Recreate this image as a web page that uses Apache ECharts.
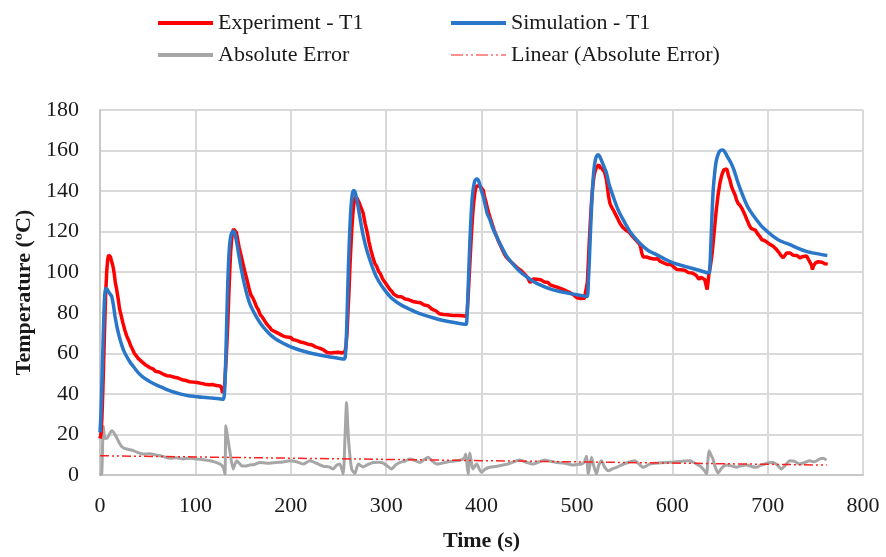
<!DOCTYPE html>
<html>
<head>
<meta charset="utf-8">
<script src="https://cdn.jsdelivr.net/npm/echarts@6/dist/echarts.min.js"></script>
<style>
html,body{margin:0;padding:0;background:#fff;}
#chart{width:886px;height:557px;}
</style>
</head>
<body>
<div id="chart"></div>
<script>
// ---- Data ----
const seriesNames = ['Experiment - T1', 'Simulation - T1', 'Absolute Error', 'Linear (Absolute Error)'];
const xTicks = [0, 100, 200, 300, 400, 500, 600, 700, 800];
const yTicks = [0, 20, 40, 60, 80, 100, 120, 140, 160, 180];

// Experiment - T1: time (s) / temperature (°C)
const expTime = [0,1,2,3,4,5,6,7,8,9,10,11,12,13,14,15,16,17.5,19,20.5,22.5,24,26,28,30,32,34,36,38,40,42,44,46,48,50,52,54,56,58,60,62,64,66,68,70,72,74,76,78,80,82,84,86,88,90,92,94,96,98,100,102,104,106,108,110,112,114,116,118,120,122,124,126,127.5,128.5,129.5,130.5,
131,132,133,134,135,136,137,138,139,140,141,142,143,144,145,146,148,150,152,154,156,158,160,162,164,166,168,170,172,174,176,178,180,182,184,186,188,190,192,194,196,198,200,202,204,206,208,210,212,214,216,218,220,222,224,226,228,230,232,234,236,238,240,242,244,246,248,250,252,254,256,257,
258,259,260,261,262,263,264,265,266,267,268,269,270,271,272,273,274,276,278,280,282,284,286,288,290,292,294,296,298,300,302,304,306,308,310,312,314,316,318,320,322,324,326,328,330,332,334,336,338,340,342,344,346,348,350,352,354,356,358,360,362,364,366,368,370,372,374,376,378,380,382,384,385,
386,387,388,389,390,391,392,393,394,395,396,397,398,399,400,401.8,403,405,407,409,411,413,415.8,418,420,422,424,426,428,430,432,434,436,438,440,442,444,446,448,450,451,452,454,456,458,460,462,464,466,468,470,472,474,476,478,480,482,484,486,488,490,492,494,496,498,500,502,504,506,508,510,
511,512,513,514,515,516,517,518,519,520,521,522,523,524,525,526,527,528,529,530,531,532,533,534.6,536,538,540,542,545,548,550,552,555.6,558,560,562,564,566,567,568,569.5,571,573,575,577,579,581,583,585,587,589,591,593,595,597,599,601,603,605,607,609,611,613,615,617,619,621,623,625,627,628,629,630,632,634,635,636.6,637.5,638.5,
640,642,644,646,648,650,652,654,656,657,658,659,660.4,662,664,666,667.3,669,671,673,674.3,676,678,680,681.3,683,685,687,688.3,690,692,694,695.3,697,699,701,703,705.8,708,710,712,714,716.3,718,720,722,723.3,725,727,729,731,733.8,736,738,740.7,742,744,746,747,748,750,752,753,755,757,758,760,762,763];
const expTemp = [18,20,28,42,58,75,90,100,106,108.5,108.7,107.5,105.5,104,102,99,95,91.5,87,82,78,75,71.5,68.5,66.5,64,62,60,58.8,57.5,57,55.8,55,54.2,53.8,53,52.6,52.2,51.2,51,50.8,50.2,49.8,49.6,49,48.5,48.8,48,48.2,47.5,47.8,47.2,47,47.4,46.6,46.8,46,46.5,45.8,46.4,45.6,45.9,45.2,45.5,44.8,45.1,44.5,44.2,44.6,43.8,44.1,43.5,43.9,42.8,40.5,42,44,
47,55,64,75,88,100,110,116,119.5,121.3,121.8,121,119.5,117,114.5,112,108,104,100,96.5,92.5,89,87.5,85.5,83,81.5,79,78,76.5,75,73.8,72.8,71.5,71.8,70.6,70.2,69.6,69.9,68.5,68.8,68,67.4,67.8,66.8,67.2,66.4,66,65.6,66,65.2,65.4,64.5,64,64.2,63.5,63.2,63.6,62.6,62.2,61.8,61,60.4,60.8,60.2,59.8,60.4,60.9,60.5,60.8,60.2,59.8,61,
64,70,80,90,102,112,121,128,133,136,137.4,137,136,135,134,132.5,131.5,129,124,120,115,111,107.5,104.5,103,100.5,99.2,97,95.5,94.8,92.8,91.5,90.5,89.2,88.8,88,87.5,87.9,87,86.8,87.2,86.4,86.6,85.6,85.8,85.2,84.6,84.9,84.2,83.8,83.2,83.5,82.6,81.8,81.5,81,80.3,79.5,79.8,79.2,79.6,79,79.4,78.8,79.2,78.6,78.2,78.7,78.1,78.5,77.9,78.3,80,
88,97,106,115,123,130,135,139,141.5,142.5,143,143.2,142.5,142,141.5,140.5,137.5,134,130,127,124,121,117.7,115,113,111,109,107.5,106.5,105.5,104.6,103.8,103.2,102,101.2,100.6,99.8,98.7,97.6,95.8,94.8,95.6,96.6,96.2,96.5,96,96.3,95.4,95.2,94.6,94.9,93.8,93.6,93.1,93.4,92.5,92.6,91.8,91.6,91,90.6,90.1,89.5,89,88.1,87.4,87.8,87,86.9,87.2,88,
95,105,115,124,132,139,144,147.5,149.5,151,152,152.5,153,152.2,151,152,150.5,150.8,149.5,147.5,145.6,142,138,134.1,132.5,130.8,129,127.2,124.3,122.2,121.5,120.5,119.4,117.8,117.2,115.8,115,113.6,112,109.5,107.5,106.6,107.5,107.2,106.9,107.3,106.5,106.2,106.6,105.5,105.3,104.6,104.8,103.8,103.5,103.8,102.8,102.4,101.3,101.7,101.2,100.8,101,100.2,99.8,100,99.6,99,98.5,98.2,96.5,95.6,97.5,97.8,96.4,94.5,91.5,95,99.5,
103,110,120,130,138,144,148,150.5,151.3,151,149.5,147.5,145.6,142.5,140,138,135.8,134,133,131.5,130.8,128.5,126.2,124,122.6,121.5,121.8,120.8,120.2,118.6,117.5,116,115.3,115.6,114.8,114.2,113.5,112.8,111.8,110.8,109.6,108.2,107.1,108.2,109.5,109.8,109.5,108.6,108.4,107.8,108.2,107.1,107.6,108.2,108,107,106.2,103.5,101.3,103,104.5,105.4,105.2,104.3,104.9,104.6,104.2,103.8,104];

// Simulation - T1
const simTime = [0,1,2,3,4,5,6,7,8,9,10,11,12.2,13,14,15.7,17,18.5,21,23,25,27,29.7,32,35,40,45,50,54,60,65,71.6,78,85,92.6,100,107,113.5,120,125,129.5,
131,132,133,134,135,136,137,138,139,140,141,142,143,144,145,147,149,151,153,155,157,160,164,168,172,176,180,185,190,195,200,210,220,230,240,250,256,
257,258,259,260,261,262,263,264,265,266,267,268,269,270,272,274,276,278,280,283,286,290,295,300,305,310,315,320,325,330,340,350,360,370,380,384,
385,386,387,388,389,390,391,392,393,394,395,396,397,398,400,401.8,404,406,408.8,412,415.8,420,426,432,440,447,454,462,471.7,482,492.7,500,508.4,511,
512,513,514,515,516,517,518,519,520,521,522,523,524,525,528,531,534,538,543,548.5,555,562.5,570,576,583.5,592,601,610,618.5,628,637.6,639,
640,641,642,643,644.5,646,648,650,652,654,656,659,662,665,668,671,674.3,678,682,688.3,695,705.8,714,723.3,732,740.7,750,762.6];
const simTemp = [21,30,45,62,78,89,91.8,91.8,91.2,90.3,89.6,89,88.2,86.5,84,78.4,75,71.5,66.9,63.8,61.2,59.3,57,55.3,53.5,50.5,48.3,46.7,45.6,44.2,43.2,41.8,40.8,39.9,39.1,38.7,38.3,38.1,37.8,37.6,37.4,
45,60,78,95,107,114,117.5,119.3,120,120.2,119.5,118,115.5,113,110,104.5,99.5,95,91,87.5,84.5,81.5,78,75,72.5,70.4,68.6,66.8,65.5,64.3,63.2,61.5,60.2,59.2,58.3,57.6,57.2,
58,64,78,95,110,122,131,136.5,139.5,140.3,140,138.5,136.5,134,128.5,123,118,114,110.5,106,102,97.5,93.5,90.3,87.5,85.6,84.1,82.8,81.7,80.6,78.8,77.4,76.2,75.3,74.5,74.3,
80,92,105,117,127,135,140,143,145,145.8,146,145.9,145,143.5,140,137.4,133,129,125.9,121.5,117.7,113.5,108.2,104.5,100.5,97.8,95.6,93.6,91.8,90.5,89.5,88.9,88.2,88,
95,105,117,128,138,145.5,151,154.5,156.5,157.5,157.9,157.7,157,156,152.5,148.9,143,137.4,131,125.9,120.5,116.1,112.5,110.4,108.7,106.5,104.6,103.3,102.2,101,99.7,99.8,
108,120,132,141,149,154.5,158,159.8,160.3,160,158.6,156,153.5,150,145.5,141.5,137.4,133.3,130,125.9,122,117.7,115.3,113.6,111.8,110.3,109.3,108.2];

// Absolute Error
const errTime = [0,1.8,3.5,5.2,8,12.2,15.7,21,24,28,35,40,45.4,52,59.4,66,73.4,80,87.3,94,101.3,108,115.3,120,125.8,129.2,131,132,134,136.3,139.6,143.3,148.4,152,157,162,167.7,175,185,192,199,206,213,220,227,234,240,244.5,248,251.5,255,257,258.5,260.5,263.8,267.3,270.8,276,281,286.5,292,297,301,305.7,310,314.5,320,325,330,335.3,340,344,348,353,360,367,373,379,382,383.6,385,386,387.8,389.5,391,395,398,400,404,408.8,415,422.6,430,440,447,454,460,466,472,478.6,486,496,500,505,508,510,512,515.3,518,520.5,523,525.8,529,533,537,541.8,547,552,556,561,565,569.5,573,576.5,585,594,600,608,613,618.5,622,625.5,630.8,634,636,637.5,638.6,640.5,642.7,645,648,652,656.8,662,667.3,672,677.8,683,688.3,692,697,701,705.8,710,714.4,718,723.3,728,733.8,739,744.3,749,754.7,758,761.7];
const errVal = [0,0.5,24,18,18.5,21.8,20,15.2,13.5,12.8,12,11,10.3,10.5,9.8,9.2,8.2,8.5,7.9,8.3,7.9,7.5,7,6.5,5.4,3.8,0.5,24.3,18,11.2,3,7,4.6,4.4,4.9,5.2,6.2,5.8,6.2,6.4,7,6.5,5.4,7,5.8,4.3,4,3,4.8,5.4,0.5,20,35.8,18,3,0.8,5.4,4,5.2,6.2,6.3,5.9,4.5,3,5,6.2,6.9,7.9,7.2,6.2,7.6,8.7,7,5.4,6,6.6,7,7.5,8.5,10.3,4,0.5,10.8,6,3,5.4,2.6,1.3,3,3.8,4.2,4.9,5.8,7.4,6.3,5.4,6.4,7.4,6.8,6.2,5.9,4.9,5.2,5.4,6.5,9.2,0.5,8.7,4,0.5,5,7,4,2.1,3,3.8,5,5.9,6.5,7,5.5,3.8,4.5,5.4,5.9,6.2,6.3,6.6,6.9,7,6.3,5.4,3.8,2,0.5,8,12,10,7.9,4,1,3.5,4.9,4.5,3.8,4.5,4.9,4.2,3.8,4.7,5.4,6,6.2,5,3,4.5,7,6.8,5.4,6.2,7,6.5,7.9,8.2,7.4];

// Linear trend of the absolute error (end points)
const trendTime = [0, 762];
const trendVal = [9.5, 4.9];

// ---- Build the chart ----
const pairs = (xs, ys) => xs.map((x, i) => [x, ys[i]]);
const FONT = "'Liberation Serif', 'DejaVu Serif', serif";
const chart = echarts.init(document.getElementById('chart'), null, {renderer: 'canvas'});

const legendBase = {
  orient: 'horizontal', itemWidth: 55, itemHeight: 4, itemGap: 7,
  textStyle: {fontFamily: FONT, fontSize: 22, color: '#1a1a1a'},
  selectedMode: false
};
const dashDotIcon = 'path://M0,0h12v1h-12z M15,0h2v1h-2z M20,0h2v1h-2z M25,0h12v1h-12z M40,0h2v1h-2z M45,0h2v1h-2z M50,0h5v1h-5z';

chart.setOption({
  animation: false,
  backgroundColor: '#ffffff',
  grid: {left: 100, right: 23, top: 110, bottom: 81, containLabel: false},
  legend: [
    Object.assign({}, legendBase, {left: 153, top: 7, icon: 'rect', data: [seriesNames[0]]}),
    Object.assign({}, legendBase, {left: 446, top: 7, icon: 'rect', data: [seriesNames[1]]}),
    Object.assign({}, legendBase, {left: 153, top: 39, icon: 'rect', data: [seriesNames[2]]}),
    Object.assign({}, legendBase, {left: 446, top: 39, icon: dashDotIcon, itemHeight: 2, data: [seriesNames[3]]})
  ],
  xAxis: {
    type: 'value', min: xTicks[0], max: xTicks[xTicks.length - 1], interval: 100,
    name: 'Time (s)', nameLocation: 'middle', nameGap: 55,
    nameTextStyle: {fontFamily: FONT, fontSize: 22, fontWeight: 'bold', color: '#1a1a1a'},
    axisLine: {show: true, lineStyle: {color: '#c8c8c8', width: 2}},
    axisTick: {show: false},
    axisLabel: {fontFamily: FONT, fontSize: 22, color: '#1a1a1a', margin: 20},
    splitLine: {show: true, lineStyle: {color: '#d9d9d9', width: 2}}
  },
  yAxis: {
    type: 'value', min: yTicks[0], max: yTicks[yTicks.length - 1], interval: 20,
    name: 'Temperature (ºC)', nameLocation: 'middle', nameGap: 62,
    nameTextStyle: {fontFamily: FONT, fontSize: 22, fontWeight: 'bold', color: '#1a1a1a'},
    axisLine: {show: true, lineStyle: {color: '#c8c8c8', width: 2}},
    axisTick: {show: false},
    axisLabel: {fontFamily: FONT, fontSize: 22, color: '#1a1a1a', margin: 21},
    splitLine: {show: true, lineStyle: {color: '#d9d9d9', width: 2}}
  },
  series: [
    {name: seriesNames[0], type: 'line', data: pairs(expTime, expTemp), symbol: 'none', z: 4,
     color: '#ff0000', lineStyle: {color: '#ff0000', width: 3.5}},
    {name: seriesNames[1], type: 'line', data: pairs(simTime, simTemp), symbol: 'none', z: 5, smooth: 0.2,
     color: '#2a77c9', lineStyle: {color: '#2a77c9', width: 3.5}},
    {name: seriesNames[2], type: 'line', data: pairs(errTime, errVal), symbol: 'none', z: 2, smooth: 0.2,
     color: '#a6a6a6', lineStyle: {color: '#a6a6a6', width: 3}},
    {name: seriesNames[3], type: 'line', data: pairs(trendTime, trendVal), symbol: 'none', z: 3,
     color: '#ff2020', lineStyle: {color: '#ff2020', width: 1.5, type: [9, 3, 2, 3, 2, 3]}}
  ]
});
</script>
</body>
</html>
